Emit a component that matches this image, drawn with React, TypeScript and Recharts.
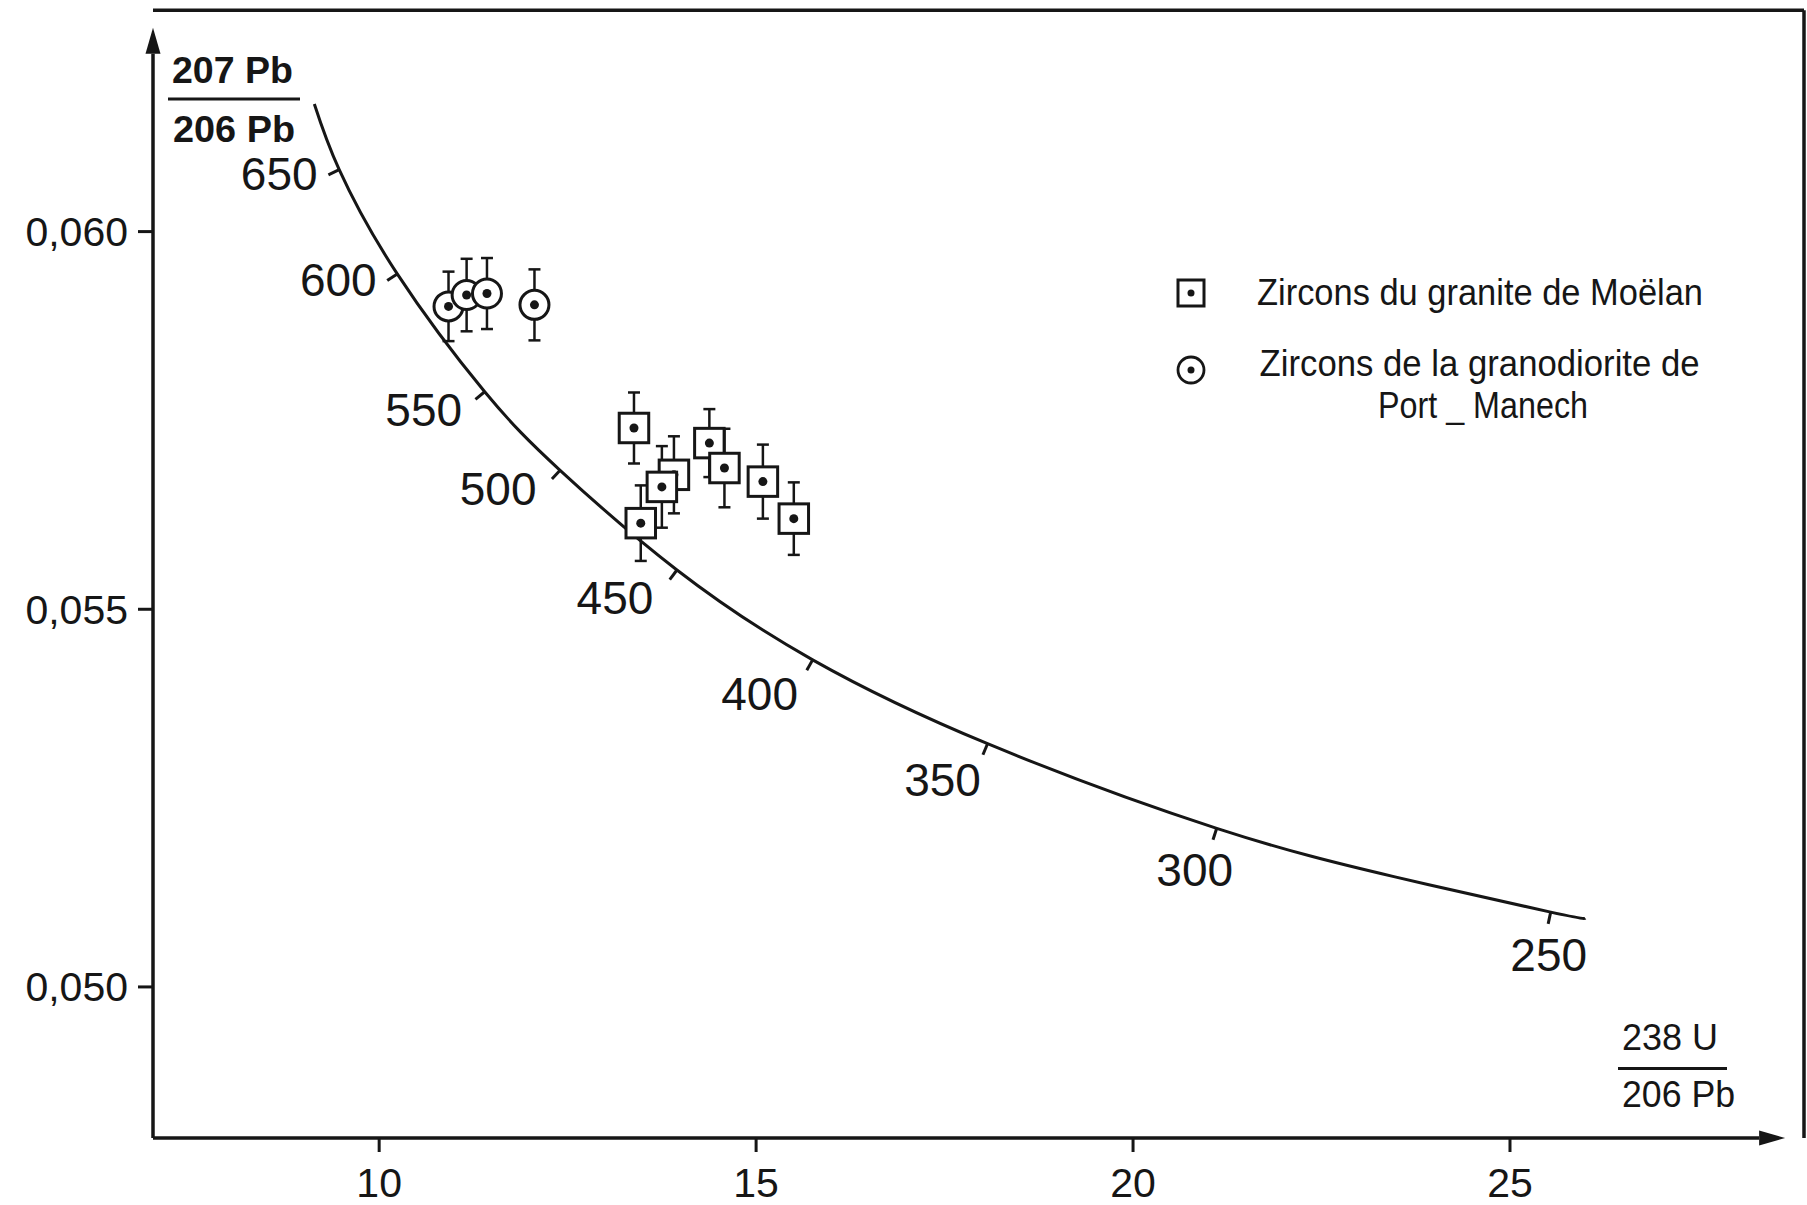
import React from 'react';
import {
  ComposedChart, Line, Scatter, ErrorBar, XAxis, YAxis, ReferenceLine, Legend,
} from 'recharts';

// Concordia curve: 238U/206Pb (x) vs 207Pb/206Pb (y)
const CURVE_X = [9.14, 9.47, 10.24, 11.40, 12.40, 13.95, 15.75, 18.07, 21.11, 23.46, 25.54, 26.00];
const CURVE_Y = [0.06169, 0.06082, 0.05944, 0.05788, 0.05684, 0.05552, 0.05433, 0.05322, 0.05210, 0.05146, 0.05099, 0.05091];

// Age marks (Ma) along the curve
const AGES = [650, 600, 550, 500, 450, 400, 350, 300, 250];
const AGE_X = [9.47, 10.24, 11.40, 12.40, 13.95, 15.75, 18.07, 21.11, 25.54];
const AGE_Y = [0.06082, 0.05944, 0.05788, 0.05684, 0.05552, 0.05433, 0.05322, 0.05210, 0.05099];

// Zircons du granite de Moëlan (squares)
const MOELAN_X = [13.38, 13.47, 13.91, 13.75, 14.38, 14.58, 15.09, 15.50];
const MOELAN_Y = [0.05740, 0.05614, 0.05678, 0.05662, 0.05720, 0.05687, 0.05669, 0.05620];
const MOELAN_ERR = [0.00047, 0.00050, 0.00051, 0.00054, 0.00045, 0.00052, 0.00049, 0.00048];

// Zircons de la granodiorite de Port-Manech (circles)
const PORT_X = [10.92, 11.16, 11.43, 12.06];
const PORT_Y = [0.05901, 0.05916, 0.05918, 0.05903];
const PORT_ERR = [0.00046, 0.00048, 0.00047, 0.00047];

const X_TICKS = [10, 15, 20, 25];
const Y_TICKS = [0.050, 0.055, 0.060];

const INK = '#161616';
const FONT = "'Liberation Sans', Arial, sans-serif";

const W = 1807;
const H = 1205;
const MARGIN = { top: 5, right: 3, bottom: 5, left: 3 };
const Y_AXIS_W = 150;
const X_AXIS_H = 62;
const X_DOMAIN: [number, number] = [7, 28.9];
const Y_DOMAIN: [number, number] = [0.048, 0.063];
const PX = (W - MARGIN.left - MARGIN.right - Y_AXIS_W) / (X_DOMAIN[1] - X_DOMAIN[0]);
const PY = (H - MARGIN.top - MARGIN.bottom - X_AXIS_H) / (Y_DOMAIN[1] - Y_DOMAIN[0]);

// where each age number sits relative to its mark, px
const AGE_LABEL_OFFSET: Record<number, [number, number]> = {
  650: [-60, 4], 600: [-59, 6], 550: [-61, 18], 500: [-62, 19], 450: [-62, 28],
  400: [-53, 34], 350: [-45, 36], 300: [-22, 42], 250: [-2, 43],
};

const curveData = CURVE_X.map((x, i) => ({ x, y: CURVE_Y[i] }));
const ageData = AGES.map((age, i) => ({ x: AGE_X[i], y: AGE_Y[i], age }));
const moelanData = MOELAN_X.map((x, i) => ({ x, y: MOELAN_Y[i], err: MOELAN_ERR[i] }));
const portData = PORT_X.map((x, i) => ({ x, y: PORT_Y[i], err: PORT_ERR[i] }));

const fmtY = (v: number) => v.toFixed(3).replace('.', ',');

// small tick across the curve + age number
const AgeMark = (props: any) => {
  const { cx, cy, payload } = props;
  const j = CURVE_X.indexOf(payload.x);
  const a = Math.max(j - 1, 0);
  const b = Math.min(j + 1, CURVE_X.length - 1);
  const tx = (CURVE_X[b] - CURVE_X[a]) * PX;
  const ty = -(CURVE_Y[b] - CURVE_Y[a]) * PY;
  const len = Math.hypot(tx, ty) || 1;
  const nx = -ty / len;
  const ny = tx / len;
  const [dx, dy] = AGE_LABEL_OFFSET[payload.age] ?? [-50, 30];
  return (
    <g>
      <line x1={cx} y1={cy} x2={cx + nx * 12} y2={cy + ny * 12} stroke={INK} strokeWidth={3} />
      <text
        x={cx + dx} y={cy + dy} textAnchor="middle" dominantBaseline="central"
        fontSize={46} fontFamily={FONT} fill={INK}
      >
        {payload.age}
      </text>
    </g>
  );
};

const SquareDot = (props: any) => {
  const { cx, cy } = props;
  const s = 29.5;
  return (
    <g>
      <rect x={cx - s / 2} y={cy - s / 2} width={s} height={s} fill="#fff" stroke={INK} strokeWidth={3} />
      <circle cx={cx} cy={cy} r={4.5} fill={INK} />
    </g>
  );
};

const CircleDot = (props: any) => {
  const { cx, cy } = props;
  return (
    <g>
      <circle cx={cx} cy={cy} r={14.5} fill="#fff" stroke={INK} strokeWidth={3} />
      <circle cx={cx} cy={cy} r={4.5} fill={INK} />
    </g>
  );
};

const makeArrow = (headLen: number, halfW: number) => (props: any) => {
  const { x1, y1, x2, y2 } = props;
  const L = Math.hypot(x2 - x1, y2 - y1) || 1;
  const ux = (x2 - x1) / L;
  const uy = (y2 - y1) / L;
  const bx = x2 - ux * headLen;
  const by = y2 - uy * headLen;
  const pts = `${x2},${y2} ${bx - uy * halfW},${by + ux * halfW} ${bx + uy * halfW},${by - ux * halfW}`;
  return (
    <g>
      <line x1={x1} y1={y1} x2={bx} y2={by} stroke={INK} strokeWidth={3.5} />
      <polygon points={pts} fill={INK} />
    </g>
  );
};

const YTitle = () => (
  <g fill={INK} fontFamily={FONT} fontWeight="bold" fontSize={37}>
    <text x={172} y={83} textLength={121} lengthAdjust="spacingAndGlyphs">207 Pb</text>
    <line x1={168} y1={99} x2={300} y2={99} stroke={INK} strokeWidth={3} />
    <text x={173} y={141.5} textLength={122} lengthAdjust="spacingAndGlyphs">206 Pb</text>
  </g>
);

const XTitle = () => (
  <g fill={INK} fontFamily={FONT} fontSize={37}>
    <text x={1622} y={1050} textLength={96} lengthAdjust="spacingAndGlyphs">238 U</text>
    <line x1={1618} y1={1068.5} x2={1727} y2={1068.5} stroke={INK} strokeWidth={3} />
    <text x={1622} y={1106.5} textLength={113} lengthAdjust="spacingAndGlyphs">206 Pb</text>
  </g>
);

const LegendBox = () => (
  <svg width={560} height={175} style={{ display: 'block', overflow: 'visible' }}>
    <g fill={INK} fontFamily={FONT} fontSize={36}>
      <rect x={18} y={20} width={26} height={26} fill="#fff" stroke={INK} strokeWidth={3} />
      <circle cx={31} cy={33} r={3.5} fill={INK} />
      <text x={97} y={45} textLength={446} lengthAdjust="spacingAndGlyphs">Zircons du granite de Moëlan</text>
      <circle cx={31} cy={110} r={13} fill="#fff" stroke={INK} strokeWidth={2.8} />
      <circle cx={31} cy={110} r={3.5} fill={INK} />
      <text x={99.6} y={116} textLength={440} lengthAdjust="spacingAndGlyphs">Zircons de la granodiorite de</text>
      <text x={218} y={158.3} textLength={210} lengthAdjust="spacingAndGlyphs">Port _ Manech</text>
    </g>
  </svg>
);

export default function App() {
  return (
    <div style={{ position: 'absolute', left: 0, top: 0, width: W, height: H, background: '#fff', fontFamily: FONT }}>
      <ComposedChart width={W} height={H} margin={MARGIN}>
        <XAxis
          type="number" dataKey="x" domain={X_DOMAIN} ticks={X_TICKS} allowDataOverflow
          height={X_AXIS_H} axisLine={false} stroke={INK}
          tickSize={14} tickMargin={16} interval={0}
          tickLine={{ stroke: INK, strokeWidth: 3 }}
          tick={{ fill: INK, fontSize: 41, fontFamily: FONT }}
          label={{ content: XTitle as any }}
        />
        <YAxis
          type="number" dataKey="y" domain={Y_DOMAIN} ticks={Y_TICKS} allowDataOverflow
          width={Y_AXIS_W} axisLine={false} stroke={INK}
          tickSize={15} tickMargin={10} interval={0}
          tickFormatter={fmtY}
          tickLine={{ stroke: INK, strokeWidth: 3 }}
          tick={{ fill: INK, fontSize: 41, fontFamily: FONT }}
          label={{ content: YTitle as any }}
        />

        {/* frame of the original plate */}
        <ReferenceLine
          segment={[{ x: 7, y: 0.06293 }, { x: 28.9, y: 0.06293 }]}
          stroke={INK} strokeWidth={3.5} ifOverflow="visible"
        />
        <ReferenceLine
          segment={[{ x: 28.9, y: 0.06293 }, { x: 28.9, y: 0.048 }]}
          stroke={INK} strokeWidth={3.5} ifOverflow="visible"
        />
        {/* axes with arrow heads */}
        <ReferenceLine
          segment={[{ x: 7, y: 0.048 }, { x: 7, y: 0.0627 }]}
          ifOverflow="visible" shape={makeArrow(26, 7.5)}
        />
        <ReferenceLine
          segment={[{ x: 7, y: 0.048 }, { x: 28.65, y: 0.048 }]}
          ifOverflow="visible" shape={makeArrow(26, 7.5)}
        />

        <Line
          data={curveData} dataKey="y" type="natural" stroke={INK} strokeWidth={3}
          dot={false} activeDot={false} isAnimationActive={false} legendType="none"
        />
        <Scatter data={ageData} dataKey="y" shape={AgeMark} isAnimationActive={false} legendType="none" />

        <Scatter
          name="Zircons de la granodiorite de Port _ Manech" data={portData} dataKey="y"
          shape={CircleDot} isAnimationActive={false}
        >
          <ErrorBar dataKey="err" direction="y" width={6} stroke={INK} strokeWidth={2.5} />
        </Scatter>
        <Scatter
          name="Zircons du granite de Moëlan" data={moelanData} dataKey="y"
          shape={SquareDot} isAnimationActive={false}
        >
          <ErrorBar dataKey="err" direction="y" width={6} stroke={INK} strokeWidth={2.5} />
        </Scatter>

        <Legend
          layout="vertical" align="center" verticalAlign="middle"
          content={LegendBox as any}
          wrapperStyle={{ left: 1160, top: 260, width: 560, height: 175 }}
        />
      </ComposedChart>
    </div>
  );
}
